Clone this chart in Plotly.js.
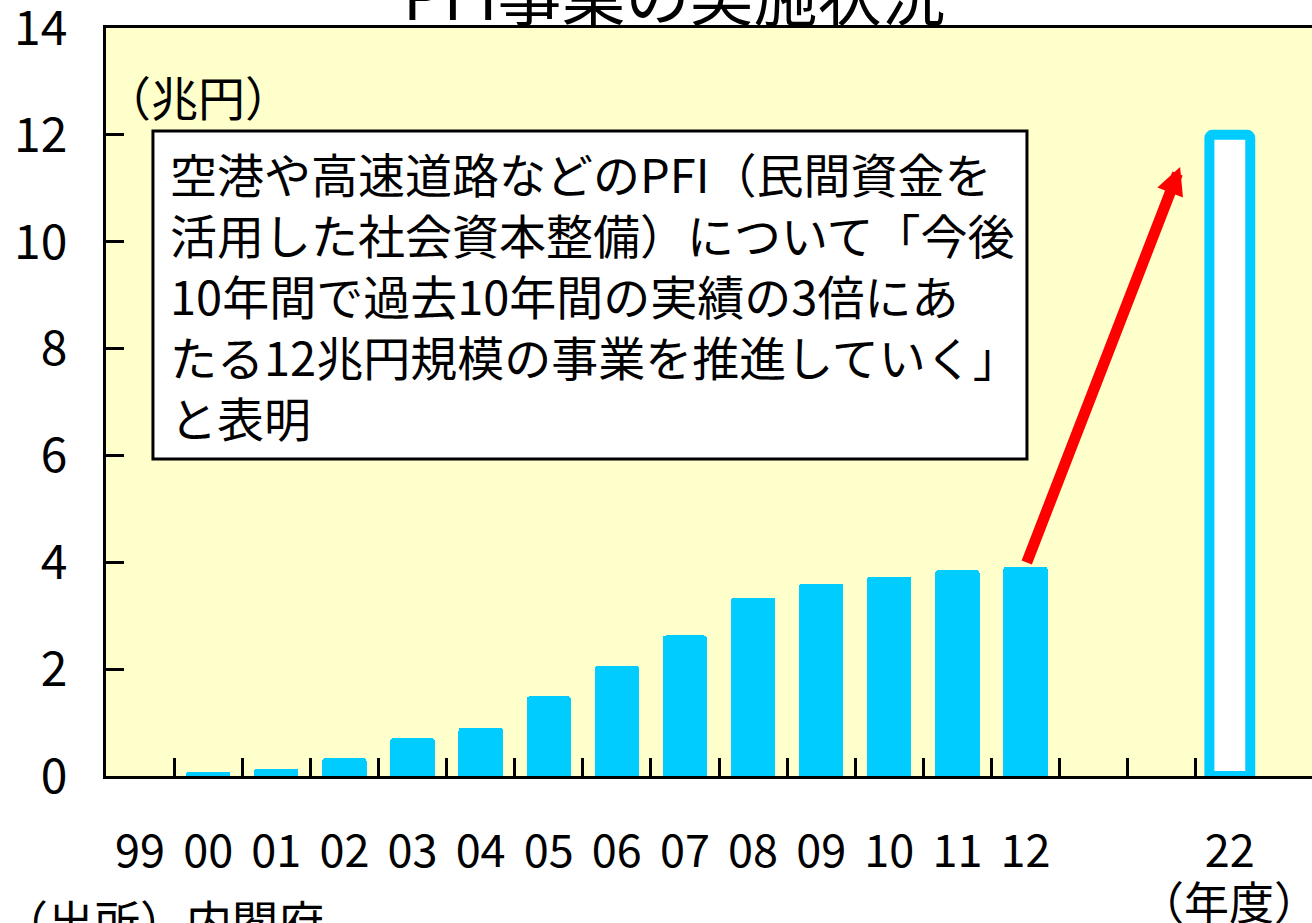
<!DOCTYPE html>
<html>
<head>
<meta charset="utf-8">
<script src="https://cdn.plot.ly/plotly-3.0.1.min.js"></script>
<style>
html, body { margin: 0; padding: 0; overflow: hidden; background: #ffffff; }
#chart { width: 1345px; height: 923px; }
</style>
</head>
<body>
<div id="chart"></div>
<script>
// ---- data ----
const yearLabels = ['99', '00', '01', '02', '03', '04', '05', '06', '07', '08', '09', '10', '11', '12'];
const actualValues = [0, 0.08, 0.14, 0.33, 0.71, 0.90, 1.49, 2.06, 2.63, 3.34, 3.60, 3.73, 3.85, 3.92];
const targetLabel = '22';
const targetValue = 12;
const titleText = 'PFI事業の実施状況';
const unitText = '（兆円）';
const fiscalText = '（年度）';
const sourceText = '（出所）内閣府';
const noteText = '空港や高速道路などのPFI（民間資金を<br>活用した社会資本整備）について「今後<br>10年間で過去10年間の実績の3倍にあ<br>たる12兆円規模の事業を推進していく」<br>と表明';

// ---- layout helpers (slot positions on a broken time axis) ----
const gapSlots = 2;
const actualX = yearLabels.map((_, i) => i);
const targetX = yearLabels.length + gapSlots;
const allX = actualX.concat([targetX]);
const allLabels = yearLabels.concat([targetLabel]);
const boundaries = [];
for (let i = 0; i < targetX; i++) boundaries.push(i + 0.5);

const FONT = '"Noto Sans CJK JP", "Noto Sans", sans-serif';
const CYAN = '#00CCFF';

const traces = [
  {
    type: 'bar', x: actualX, y: actualValues, width: 0.65,
    xaxis: 'x', yaxis: 'y',
    marker: { color: CYAN, line: { width: 0 }, cornerradius: 3 },
    hoverinfo: 'skip', showlegend: false
  },
  {
    type: 'bar', x: [targetX], y: [targetValue], width: 0.6,
    xaxis: 'x2', yaxis: 'y',
    marker: { color: '#FFFFFF', line: { color: CYAN, width: 10 }, cornerradius: 3 },
    hoverinfo: 'skip', showlegend: false
  }
];

const xRange = [-0.5, 17.5];

const layout = {
  width: 1345, height: 923,
  margin: { l: 106, r: 13, t: 28, b: 147 },
  paper_bgcolor: '#FFFFFF',
  plot_bgcolor: '#FFFFCC',
  font: { family: FONT, color: '#000000', size: 45 },
  bargap: 0,
  barmode: 'overlay',
  xaxis: {
    range: xRange, tickmode: 'array', tickvals: allX, ticktext: allLabels,
    ticks: '', showline: true, linewidth: 3, linecolor: '#000000',
    mirror: true, showgrid: false, zeroline: false, fixedrange: true,
    tickfont: { family: FONT, size: 45, color: '#000000' },
    ticklabelstandoff: 34, ticklabeloverflow: 'allow'
  },
  xaxis2: {
    overlaying: 'x', anchor: 'y', side: 'bottom', range: xRange,
    tickmode: 'array', tickvals: boundaries, ticktext: boundaries.map(() => ''),
    ticks: 'inside', ticklen: 18, tickwidth: 3, tickcolor: '#000000',
    showticklabels: false, showline: false, showgrid: false, zeroline: false,
    fixedrange: true
  },
  yaxis: {
    range: [0, 14], tickmode: 'linear', tick0: 0, dtick: 2,
    ticks: 'inside', ticklen: 18, tickwidth: 3, tickcolor: '#000000',
    showline: true, linewidth: 3, linecolor: '#000000',
    showgrid: false, zeroline: false,
    tickfont: { family: FONT, size: 48, color: '#000000' },
    ticklabelstandoff: 26, ticklabeloverflow: 'allow', fixedrange: true
  },
  shapes: [
    {
      type: 'rect', xref: 'paper', yref: 'paper', layer: 'above',
      x0: 0.0383, x1: 0.7512, y0: 0.4238, y1: 0.8623,
      fillcolor: '#FFFFFF', line: { color: '#000000', width: 3 }
    }
  ],
  annotations: [
    {
      text: titleText, xref: 'paper', yref: 'paper', x: 0.464, y: 1.048,
      xanchor: 'center', yanchor: 'middle', showarrow: false,
      font: { family: FONT, size: 64, color: '#000000' }
    },
    {
      text: unitText, xref: 'paper', yref: 'paper', x: -0.003, y: 0.910,
      xanchor: 'left', yanchor: 'middle', showarrow: false,
      font: { family: FONT, size: 47, color: '#000000' }
    },
    {
      text: noteText, xref: 'paper', yref: 'paper', x: 0.0506, y: 0.64,
      xanchor: 'left', yanchor: 'middle', align: 'left', showarrow: false,
      font: { family: FONT, size: 47, color: '#000000' }
    },
    {
      text: '', xref: 'x', yref: 'y', x: 15.27, y: 11.40,
      axref: 'x', ayref: 'y', ax: 13.01, ay: 3.97,
      showarrow: true, arrowhead: 2, arrowsize: 0.5, arrowwidth: 11,
      arrowcolor: '#FF0000', standoff: 0, startstandoff: 0
    },
    {
      text: fiscalText, xref: 'paper', yref: 'paper', x: 0.916, y: -0.166,
      xanchor: 'center', yanchor: 'middle', showarrow: false,
      font: { family: FONT, size: 45, color: '#000000' }
    },
    {
      text: sourceText, xref: 'paper', yref: 'paper', x: -0.0865, y: -0.191,
      xanchor: 'left', yanchor: 'middle', showarrow: false,
      font: { family: FONT, size: 46, color: '#000000' }
    }
  ]
};

// note box annotation's vertical centre: middle of the box
layout.annotations[2].y = (layout.shapes[0].y0 + layout.shapes[0].y1) / 2;

Plotly.newPlot('chart', traces, layout, { staticPlot: true, displayModeBar: false });
</script>
</body>
</html>
